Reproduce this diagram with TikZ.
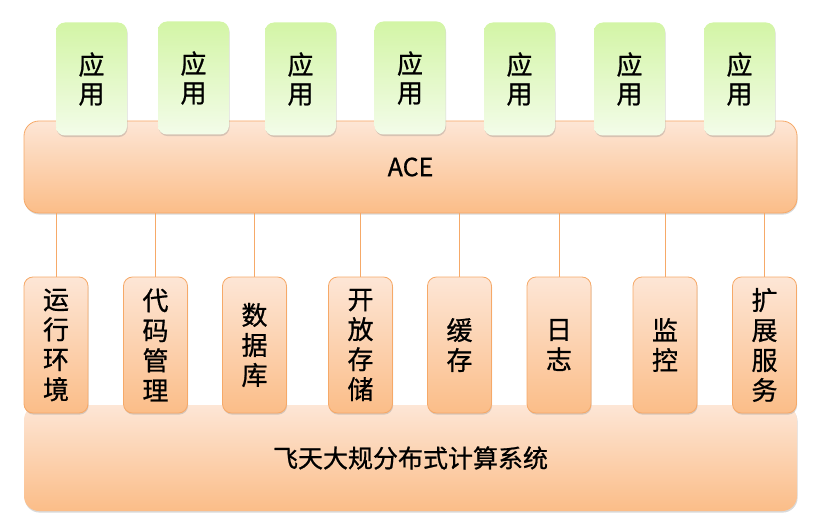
\documentclass[tikz,border=0pt]{standalone}
\usepackage{tikz}
\usepackage{xcolor}
\usepackage{fontspec}
\setmainfont{Noto Sans CJK SC}[UprightFeatures={FakeBold=0.8}]
\usetikzlibrary{shadows}

\definecolor{peachtop}{HTML}{FDE6D6}
\definecolor{peachbot}{HTML}{FBBD88}
\definecolor{peachline}{HTML}{F6A968}
\definecolor{limetop}{HTML}{D3F5A6}
\definecolor{limebot}{HTML}{F3FCE9}

\begin{document}
\begin{tikzpicture}[x=1pt,y=-1pt,
  appnode/.style={rounded corners=9pt,minimum width=71pt,minimum height=113pt,inner sep=0pt,
    top color=limetop,bottom color=limebot,align=center,font=\fontsize{26}{29}\selectfont,
    drop shadow={opacity=0.3,shadow xshift=0.6pt,shadow yshift=-1.6pt}},
  svcnode/.style={rounded corners=9pt,minimum width=64pt,minimum height=136pt,inner sep=0pt,
    draw=peachline,line width=0.8pt,top color=peachtop,bottom color=peachbot,align=center,
    font=\fontsize{26}{30}\selectfont,
    drop shadow={opacity=0.3,shadow xshift=0.6pt,shadow yshift=-1.6pt}},
  barnode/.style={rounded corners=15pt,minimum width=773pt,inner sep=0pt,
    top color=peachtop,bottom color=peachbot,font=\fontsize{25}{28}\selectfont,
    drop shadow={opacity=0.3,shadow xshift=0.6pt,shadow yshift=-1.6pt}}]
\useasboundingbox (0,0) rectangle (822,524);
% base system
\node [barnode,minimum height=106pt] (feitian) at (410.5,458) {飞天大规分布式计算系统};
% ACE layer
\node [barnode,minimum height=92pt,draw=peachline,line width=0.8pt] (ace) at (410.5,167) {ACE};
% applications on top
\foreach \pos/\ypos [count=\i] in {91.5/79,193.5/78,300.5/79,410/78,519.5/79,629.5/79,739.5/79}
  {  \node [appnode] (app\i) at (\pos,\ypos) {应\\用};}
% services between ACE and base
\foreach \txt/\pos [count=\i] in {运\\行\\环\\境/56,代\\码\\管\\理/155.5,数\\据\\库/254.5,开\\放\\存\\储/360.5,缓\\存/459.5,日\\志/559,监\\控/665,扩\\展\\服\\务/764.5}
  {  \node [svcnode] (svc\i) at (\pos,345) {\txt};
     \draw [peachline,line width=0.9pt] (svc\i.north) -- (svc\i.north |- ace.south);}
\end{tikzpicture}
\end{document}
